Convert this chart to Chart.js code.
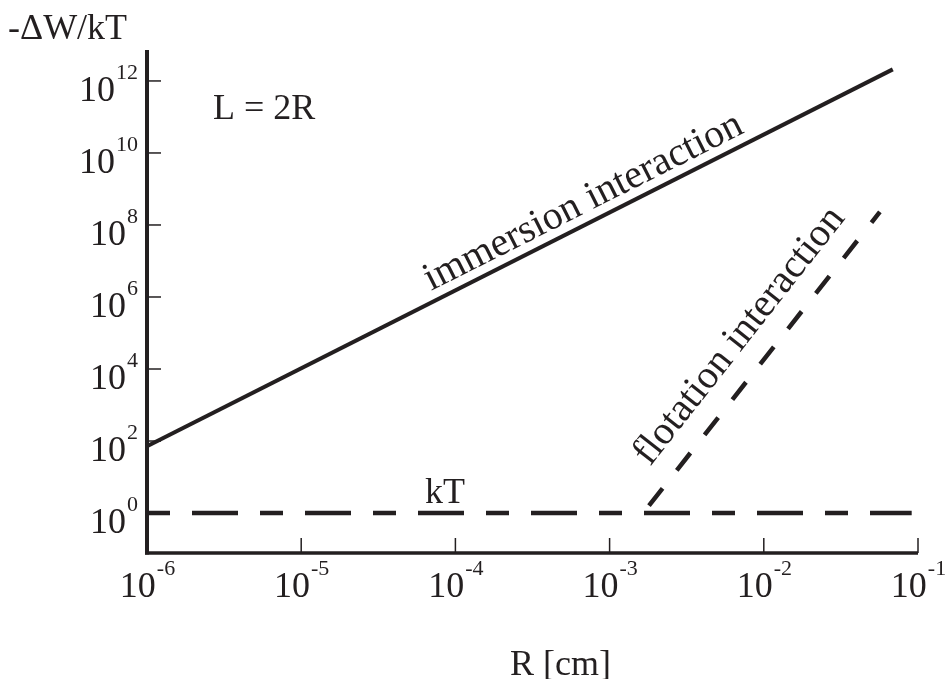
<!DOCTYPE html>
<html>
<head>
<meta charset="utf-8">
<script src="https://cdn.jsdelivr.net/npm/chart.js@4.4.1/dist/chart.umd.min.js"></script>
<style>
html,body{margin:0;padding:0;background:#fff;}
#wrap{width:945px;height:679px;position:relative;}
</style>
</head>
<body>
<div id="wrap"><canvas id="c" width="945" height="679"></canvas></div>
<script>
// ---- data ----
const immersionR = [1.0e-6, 6.86e-2];
const immersionW = [72, 2.1e12];
const flotationR = [1.8e-3, 5.66e-2];
const flotationW = [1.6, 2.3e8];
const kTR = [1.0e-6, 9.1e-2];
const kTW = [1, 1];
const xTickExps = [-6, -5, -4, -3, -2, -1];
const yTickExps = [0, 2, 4, 6, 8, 10, 12];
const xTitle = 'R [cm]';
const yTitle = '-\u0394W/kT';

const INK = '#231f20';
const FONT = "'Liberation Serif', 'Times New Roman', serif";

function pts(xs, ys){ return xs.map((x,i)=>({x:x, y:ys[i]})); }

const decor = {
  id: 'decor',
  afterDraw(chart){
    const ctx = chart.ctx;
    const xs = chart.scales.x, ys = chart.scales.y;
    const L = xs.getPixelForValue(xs.min), R = xs.getPixelForValue(xs.max);
    const T = ys.getPixelForValue(ys.max), B = ys.getPixelForValue(ys.min);
    ctx.save();
    ctx.strokeStyle = INK; ctx.fillStyle = INK;
    ctx.lineCap = 'butt';
    // axis lines
    ctx.lineWidth = 4;
    ctx.beginPath(); ctx.moveTo(L, T); ctx.lineTo(L, B + 1.5); ctx.stroke();
    ctx.lineWidth = 3.5;
    ctx.beginPath(); ctx.moveTo(L - 2, B); ctx.lineTo(R, B); ctx.stroke();
    // ticks (inward)
    ctx.lineWidth = 1.5;
    yTickExps.forEach(e => {
      const py = ys.getPixelForValue(Math.pow(10, e));
      ctx.beginPath(); ctx.moveTo(L, py); ctx.lineTo(L + 14, py); ctx.stroke();
    });
    xTickExps.forEach(e => {
      const px = xs.getPixelForValue(Math.pow(10, e));
      ctx.beginPath(); ctx.moveTo(px, B); ctx.lineTo(px, B - 15); ctx.stroke();
    });
    // tick labels "10^n"
    const big = '36px ' + FONT, small = '22px ' + FONT;
    ctx.textBaseline = 'alphabetic'; ctx.textAlign = 'left';
    function pow(e, anchorX, baseY, mode){
      ctx.font = big; const w1 = ctx.measureText('10').width;
      ctx.font = small; const s = String(e); const w2 = ctx.measureText(s).width;
      let x0 = mode === 'right' ? anchorX - w1 - w2 : anchorX - (w1 + w2) / 2;
      ctx.font = big; ctx.fillText('10', x0, baseY);
      ctx.font = small; ctx.fillText(s, x0 + w1 + 1, baseY - 22);
    }
    yTickExps.forEach(e => {
      const py = ys.getPixelForValue(Math.pow(10, e));
      pow(e, 137, py + 20, 'right');
    });
    xTickExps.forEach(e => {
      const px = xs.getPixelForValue(Math.pow(10, e));
      pow(e, px, 597, 'center');
    });
    // titles
    ctx.font = big;
    ctx.fillText(yTitle, 8, 39);
    ctx.fillText(xTitle, 510, 675);
    // annotations
    ctx.fillText('L = 2R', 213, 119);
    ctx.fillText('kT', 425, 503);
    ctx.font = '40px ' + FONT;
    ctx.save(); ctx.translate(431, 291); ctx.rotate(-26.8 * Math.PI / 180);
    ctx.fillText('immersion interaction', 0, 0); ctx.restore();
    ctx.save(); ctx.translate(650, 467); ctx.rotate(-51.8 * Math.PI / 180);
    ctx.fillText('flotation interaction', 0, 0); ctx.restore();
    ctx.restore();
  }
};

new Chart(document.getElementById('c'), {
  type: 'scatter',
  data: {
    datasets: [
      { label: 'immersion interaction', data: pts(immersionR, immersionW), showLine: true,
        borderColor: INK, borderWidth: 4, pointRadius: 0, borderCapStyle: 'butt', fill: false },
      { label: 'flotation interaction', data: pts(flotationR, flotationW), showLine: true,
        borderColor: INK, borderWidth: 4.5, pointRadius: 0, borderDash: [22, 23], borderCapStyle: 'butt', fill: false },
      { label: 'kT', data: pts(kTR, kTW), showLine: true,
        borderColor: INK, borderWidth: 4.5, pointRadius: 0, borderDash: [23, 22, 46, 22], borderCapStyle: 'butt', fill: false }
    ]
  },
  options: {
    responsive: false, animation: false, maintainAspectRatio: false,
    layout: { padding: { left: 147, right: 27, top: 50, bottom: 126 } },
    plugins: { legend: { display: false }, tooltip: { enabled: false } },
    scales: {
      x: { type: 'logarithmic', min: 1e-6, max: 1e-1, display: false },
      y: { type: 'logarithmic', min: 0.0776, max: 7.24e12, display: false }
    }
  },
  plugins: [decor]
});
</script>
</body>
</html>
